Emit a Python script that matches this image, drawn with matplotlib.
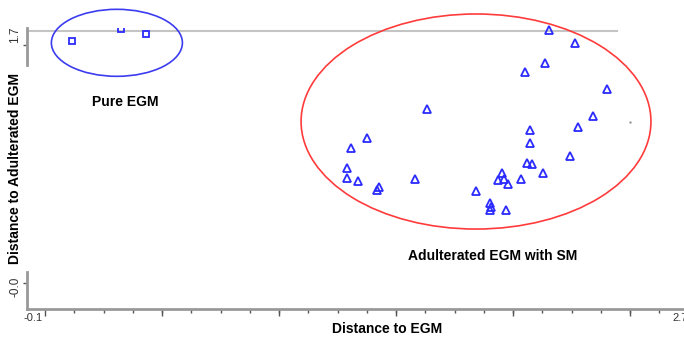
import numpy as np
import matplotlib.pyplot as plt
from matplotlib.patches import Ellipse

plt.rcParams['font.family'] = ['Liberation Sans', 'DejaVu Sans']

# pure EGM samples (squares)
pure_x = [0.069, 0.281, 0.389]
pure_y = [1.660, 1.744, 1.707]

# adulterated EGM with SM (triangles)
adul_x = [1.605, 1.345, 1.276, 1.259, 1.259, 1.306, 1.397, 1.389, 1.553,
          2.133, 2.245, 2.115, 2.029, 2.384, 2.323, 2.258, 2.051, 2.051,
          2.038, 2.059, 2.107, 1.929, 1.912, 1.938, 1.955, 2.012, 1.817,
          1.878, 1.882, 1.878, 1.947, 2.224]
adul_y = [1.201, 1.005, 0.938, 0.803, 0.735, 0.715, 0.675, 0.655, 0.729,
          1.734, 1.646, 1.511, 1.451, 1.336, 1.154, 1.080, 1.059, 0.972,
          0.837, 0.830, 0.769, 0.769, 0.722, 0.729, 0.695, 0.729, 0.648,
          0.567, 0.540, 0.520, 0.520, 0.884]

xmajor = [-0.048, 0.458, 0.964, 1.471, 1.977, 2.483]
ytick_pos = [1.7, 0.0]
ytick_lab = ['1.7', '-0.0']

fig = plt.figure(figsize=(6.84, 3.38), dpi=100)
W, H = 684, 338
ax = fig.add_axes([27 / W, (H - 309) / H, (684 - 27) / W, (309 - 28) / H])
ax.set_xlim(-0.126, 2.717)
ax.set_ylim(-0.148, 1.748)

blue = '#2b2bff'
ax.plot(adul_x, adul_y, '^', ms=6, mfc='none', mec=blue, mew=1.3, clip_on=False, zorder=3)
ax.plot(pure_x, pure_y, 's', ms=5, mfc='none', mec=blue, mew=1.3, zorder=3)
ax.plot([2.483], [1.113], '.', ms=1.5, color='#999999')

# reference line at top
ax.plot([-0.126, 2.427], [1.727, 1.727], color='#c4c4c4', lw=1.5, zorder=1)

ax.add_patch(Ellipse((0.263, 1.648), 0.567, 0.452, fill=False, ec='#3c3cf0', lw=1.2, clip_on=False))
ax.add_patch(Ellipse((1.817, 1.117), 1.514, 1.451, fill=False, ec='#ff3b3b', lw=1.2, clip_on=False))

for s in ['top', 'right', 'left']:
    ax.spines[s].set_visible(False)
ax.spines['bottom'].set_color('#999999')
ax.spines['bottom'].set_linewidth(2)

# left axis, broken by the y label
for y0, y1 in [(1.748, 1.5), (0.1, -0.148)]:
    ax.plot([-0.126, -0.126], [y0, y1], color='#999999', lw=2, clip_on=False)

ax.set_xticks(xmajor)
ax.set_xticks(np.arange(-0.048 + 0.1266, 2.717, 0.1266), minor=True)
ax.set_xticklabels([])
ax.tick_params(axis='x', which='major', length=5, width=1, color='#555555')
ax.tick_params(axis='x', which='minor', length=3, width=1, color='#555555')
ax.set_yticks([1.63, 0.03])
ax.set_yticklabels([])
ax.tick_params(axis='y', length=3, width=1, color='#555555')

for yv, lab in zip(ytick_pos, ytick_lab):
    ax.text(-0.126 - 0.025, yv, lab, rotation=90, ha='right', va='center', fontsize=8.5, color='#333333')
ax.text(-0.1, -0.21, '-0.1', ha='center', va='center', fontsize=8, color='#333333', clip_on=False)
ax.text(2.7, -0.21, '2.7', ha='center', va='center', fontsize=8, color='#333333', clip_on=False)

ax.text(0.3, 1.25, 'Pure EGM', ha='center', va='center', fontsize=10, fontweight='bold')
ax.text(1.890, 0.209, 'Adulterated EGM with SM', ha='center', va='center', fontsize=10, fontweight='bold')

fig.text(387 / W, 1 - 329 / H, 'Distance to EGM', ha='center', va='center', fontsize=10, fontweight='bold')
fig.text(15 / W, 1 - 168 / H, 'Distance to Adulterated EGM', ha='center', va='center',
         rotation=90, fontsize=10, fontweight='bold')

fig.savefig('out.png', dpi=100)
